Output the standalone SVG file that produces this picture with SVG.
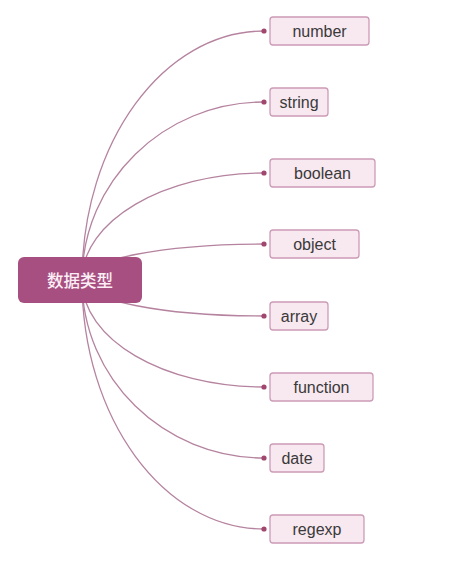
<svg xmlns="http://www.w3.org/2000/svg" width="449" height="561" viewBox="0 0 449 561">
<style>
.bg{fill:#ffffff}
.conn path{fill:none;stroke:#b5839f;stroke-width:1.3}
.dot{fill:#a0466f}
.box{fill:#f8e8f0;stroke:#cc9bb6;stroke-width:1.3}
.lbl{font-family:"Liberation Sans","DejaVu Sans",sans-serif;font-size:16px;fill:#3a3a3a;text-anchor:middle;dominant-baseline:central}
.root{fill:#a84f82}
.rootlbl{font-family:"Noto Sans CJK SC",sans-serif;font-size:16.5px;fill:#fbeff5;text-anchor:middle;dominant-baseline:central;font-weight:500}
</style>
<rect class="bg" x="0" y="0" width="449" height="561"/>
<g id="connectors" class="conn">
<path d="M82,280 C82,142.5 163.5,31 264,31"/>
<path d="M82,280 C82,181.8 163.5,102 264,102"/>
<path d="M82,280 C82,221 163.5,173 264,173"/>
<path d="M82,280 C82,260 163.5,244 264,244"/>
<path d="M82,280 C82,300 163.5,316 264,316"/>
<path d="M82,280 C82,339.6 163.5,387 264,387"/>
<path d="M82,280 C82,378.8 163.5,458 264,458"/>
<path d="M82,280 C82,418.1 163.5,529 264,529"/>
<circle class="dot" cx="264" cy="31" r="2.6"/>
<circle class="dot" cx="264" cy="102" r="2.6"/>
<circle class="dot" cx="264" cy="173" r="2.6"/>
<circle class="dot" cx="264" cy="244" r="2.6"/>
<circle class="dot" cx="264" cy="316" r="2.6"/>
<circle class="dot" cx="264" cy="387" r="2.6"/>
<circle class="dot" cx="264" cy="458" r="2.6"/>
<circle class="dot" cx="264" cy="529" r="2.6"/>
</g>
<g id="root">
<rect class="root" x="18" y="257" width="124" height="46" rx="6"/>
<text class="rootlbl" x="80" y="280">数据类型</text>
</g>
<g id="n-number"><rect class="box" x="270" y="17" width="99" height="28" rx="3"/><text class="lbl" x="319.5" y="31">number</text></g>
<g id="n-string"><rect class="box" x="270" y="88" width="58" height="28" rx="3"/><text class="lbl" x="299" y="102">string</text></g>
<g id="n-boolean"><rect class="box" x="270" y="159" width="105" height="28" rx="3"/><text class="lbl" x="322.5" y="173">boolean</text></g>
<g id="n-object"><rect class="box" x="270" y="230" width="89" height="28" rx="3"/><text class="lbl" x="314.5" y="244">object</text></g>
<g id="n-array"><rect class="box" x="270" y="302" width="58" height="28" rx="3"/><text class="lbl" x="299" y="316">array</text></g>
<g id="n-function"><rect class="box" x="270" y="373" width="103" height="28" rx="3"/><text class="lbl" x="321.5" y="387">function</text></g>
<g id="n-date"><rect class="box" x="270" y="444" width="54" height="28" rx="3"/><text class="lbl" x="297" y="458">date</text></g>
<g id="n-regexp"><rect class="box" x="270" y="515" width="94" height="28" rx="3"/><text class="lbl" x="317" y="529">regexp</text></g>
</svg>
